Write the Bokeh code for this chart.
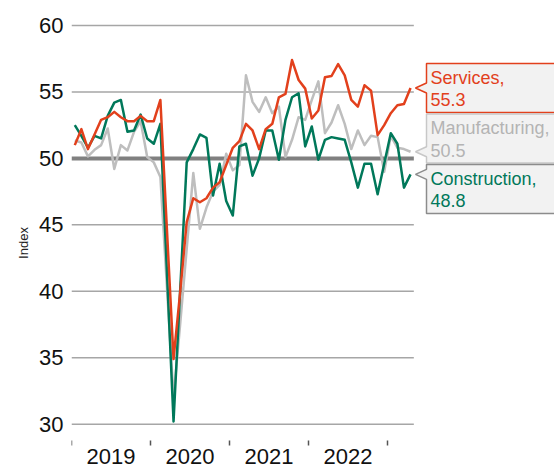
from bokeh.plotting import figure
from bokeh.models import FixedTicker, Range1d
from bokeh.embed import file_html
from bokeh.resources import INLINE
from bokeh.core.properties import value

# ---------------- data (monthly, Jan 2019 - Apr 2023) ----------------
years = ["2019", "2020", "2021", "2022"]
y_ticks = [30, 35, 40, 45, 50, 55, 60]

services = [51.0, 52.2, 50.7, 51.8, 52.9, 53.1, 53.5, 53.1, 52.8, 52.8, 53.2, 52.8,
            52.8, 54.4, 44.6, 34.9, 39.9, 45.2, 47.0, 46.7, 47.0, 47.8, 48.2, 49.5,
            50.8, 51.3, 52.6, 52.1, 50.7, 52.2, 52.6, 54.6, 54.85, 57.4, 55.9, 55.25,
            53.0, 53.6, 56.1, 56.2, 57.1, 56.25, 54.4, 53.9, 55.5, 55.1, 51.75, 52.5,
            53.4, 54.0, 54.1, 55.3]
manufacturing = [51.35, 51.2, 50.15, 50.65, 51.0, 52.25, 49.2, 51.0, 50.6, 52.0, 52.8, 50.1,
                 49.7, 48.6, 40.3, 32.0, 37.5, 43.2, 48.9, 44.7, 46.3, 47.5, 48.0, 50.35,
                 49.1, 49.5, 56.25, 54.25, 53.5, 54.6, 53.4, 53.9, 50.1, 51.4, 53.1, 52.9,
                 54.4, 55.8, 51.9, 52.7, 54.0, 52.6, 50.7, 52.1, 51.0, 51.7, 51.6, 49.0,
                 51.7, 50.8, 50.7, 50.5]
construction = [52.5, 51.7, 50.8, 51.7, 51.5, 53.2, 54.2, 54.4, 52.0, 52.1, 53.3, 51.5,
                51.1, 52.6, 41.4, 30.2, 40.0, 49.7, 50.7, 51.8, 51.55, 47.2, 49.6, 46.8,
                45.7, 50.9, 51.1, 48.7, 50.0, 52.1, 52.1, 49.9, 52.9, 54.6, 54.9, 50.9,
                52.4, 49.9, 51.4, 51.6, 51.5, 51.4, 49.7, 47.8, 49.6, 49.6, 47.3, 49.6,
                51.9, 51.1, 47.8, 48.8]

names = ["Services,", "Manufacturing,", "Construction,"]

# ---------------- styling / layout ----------------
RED = "#E2401C"
GREEN = "#00785A"
GREY = "#BEBEBE"
FONT = "Liberation Sans"

W, H = 554, 470
BORDER_L, BORDER_T = 71, 15
FRAME_W = W - BORDER_L
FRAME_H = H - BORDER_T
PX_MONTH = 79.0 / 12.0
PX_UNIT = 13.29
Y1 = 60 + 10 / PX_UNIT            # top gridline 10px below frame top
Y0 = Y1 - FRAME_H / PX_UNIT
X1 = FRAME_W / PX_MONTH


def y_at(px_from_top):
    return Y1 - px_from_top / PX_UNIT


n = len(services)
xs = [i + 0.5 for i in range(n)]

p = figure(width=W, height=H, output_backend="svg", toolbar_location=None,
           x_range=Range1d(0, X1), y_range=Range1d(Y0, Y1),
           x_axis_location=None,
           min_border_left=BORDER_L, min_border_top=BORDER_T,
           min_border_bottom=0, min_border_right=0)
p.outline_line_color = None
p.xgrid.visible = False
p.ygrid.visible = False

# grid lines limited to the data span
grid_y = [t for t in y_ticks if t != 50]
p.segment(x0=[0] * len(grid_y), x1=[n] * len(grid_y), y0=grid_y, y1=grid_y,
          line_color="#A6A6A6", line_width=1.5)
p.segment(x0=[0], x1=[n], y0=[50], y1=[50], line_color="#808080", line_width=4)

# year ticks (at year boundaries) and year labels (mid-year)
year_edges = [12 * k for k in range(len(years) + 1)]
p.segment(x0=year_edges, x1=year_edges,
          y0=[y_at(425)] * len(year_edges), y1=[y_at(430)] * len(year_edges),
          line_color="#555555", line_width=1.5)
p.text(x=[6 + 12 * k for k in range(len(years))], y=[y_at(441)] * len(years),
       text=years, text_font=value(FONT), text_font_size="22px",
       text_color="#111111", text_align="center", text_baseline="alphabetic")

# series
series = [(manufacturing, GREY), (construction, GREEN), (services, RED)]
for vals, col in series:
    p.line(xs, vals, line_color=col, line_width=2.5, line_join="round")

# ---------------- call-out labels ----------------
last_vals = [services[-1], manufacturing[-1], construction[-1]]
text_cols = [RED, "#B4B4B4", GREEN]
border_cols = [RED, "#C8C8C8", "#8C8C8C"]
box_tops_px = [48, 98.5, 149]
BOX_H = 49
box_left = 355 / PX_MONTH
tip_x = 344 / PX_MONTH
far_right = X1 + 10
notch = 5 / PX_UNIT
tx = 359 / PX_MONTH
for k in range(3):
    top = y_at(box_tops_px[k])
    bot = y_at(box_tops_px[k] + BOX_H)
    ty = last_vals[k]
    px_ = [box_left, far_right, far_right, box_left, box_left, tip_x, box_left]
    py_ = [top, top, bot, bot, ty - notch, ty, ty + notch]
    p.patch(px_, py_, fill_color="#F2F2F2", line_color=border_cols[k], line_width=1.5)
    b1 = y_at(box_tops_px[k] + 14)
    b2 = y_at(box_tops_px[k] + 36)
    p.text(x=[tx, tx], y=[b1, b2], text=[names[k], "%.1f" % last_vals[k]],
           text_color=text_cols[k], text_font=value(FONT), text_font_size="18px",
           text_baseline="alphabetic", text_align="left")

# ---------------- y axis ----------------
ya = p.yaxis[0]
ya.ticker = FixedTicker(ticks=y_ticks)
ya.axis_line_color = None
ya.major_tick_line_color = None
ya.minor_tick_line_color = None
ya.major_tick_in = 0
ya.major_tick_out = 0
ya.major_label_standoff = 8
ya.major_label_text_font = FONT
ya.major_label_text_font_size = "22px"
ya.major_label_text_color = "#111111"
ya.axis_label = "Index"
ya.axis_label_text_font = FONT
ya.axis_label_text_font_style = "normal"
ya.axis_label_text_font_size = "13px"
ya.axis_label_text_color = "#222222"
ya.axis_label_standoff = 5

open("out.html", "w").write(file_html(p, INLINE))
